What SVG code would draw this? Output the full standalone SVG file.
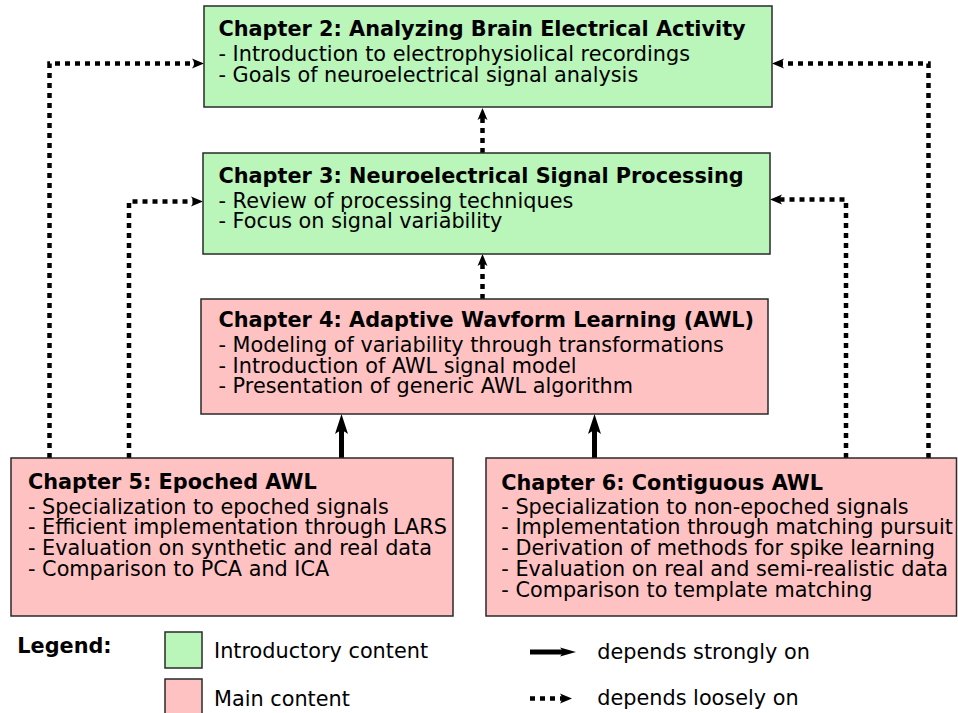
<svg xmlns="http://www.w3.org/2000/svg" width="958" height="713" viewBox="0 0 958 713">
<style>
  .intro { fill: #baf5ba; stroke: #2a2a2a; stroke-width: 1.5; }
  .main { fill: #ffc2c2; stroke: #2a2a2a; stroke-width: 1.5; }
  .title { font-family: "DejaVu Sans", sans-serif; font-size: 20.8px; font-weight: bold; fill: #000; }
  .body { font-family: "DejaVu Sans", sans-serif; font-size: 20.8px; fill: #000; }
  .strong { fill: none; stroke: #000; stroke-width: 5; }
  .loose { fill: none; stroke: #000; stroke-width: 4.5; stroke-dasharray: 5 5; }
</style>
<defs>
  <marker id="headS" markerUnits="userSpaceOnUse" viewBox="-22 -8 24 16" markerWidth="24" markerHeight="16" refX="-14" refY="0" orient="auto" overflow="visible">
    <path d="M0,0 L-20,-6.5 Q-14,0 -20,6.5 Z" fill="#000"/>
  </marker>
  <marker id="headL" markerUnits="userSpaceOnUse" viewBox="-14 -6 16 12" markerWidth="16" markerHeight="12" refX="-8" refY="0" orient="auto" overflow="visible">
    <path d="M0,0 L-12,-5 Q-8,0 -12,5 Z" fill="#000"/>
  </marker>
  <marker id="headSl" markerUnits="userSpaceOnUse" viewBox="-18 -6 20 12" markerWidth="20" markerHeight="12" refX="-11" refY="0" orient="auto" overflow="visible">
    <path d="M0,0 L-16,-4.5 Q-11,0 -16,4.5 Z" fill="#000"/>
  </marker>
</defs>

<g id="connectors">
  <path class="loose" d="M49.5,458 V63.5 H196" marker-end="url(#headL)"/>
  <path class="loose" d="M129,458 V201.5 H195" marker-end="url(#headL)"/>
  <path class="loose" d="M928.5,458 V63.5 H780" marker-end="url(#headL)"/>
  <path class="loose" d="M846,458 V199.5 H778" marker-end="url(#headL)"/>
  <path class="loose" d="M482.5,299 V262" marker-end="url(#headL)"/>
  <path class="loose" d="M482.5,153 V116" marker-end="url(#headL)"/>
  <path class="strong" d="M341.5,458 V428" marker-end="url(#headS)"/>
  <path class="strong" d="M594.5,458 V428" marker-end="url(#headS)"/>
</g>

<g id="ch2">
  <rect class="intro" x="204" y="6" width="568" height="101"/>
  <text class="title" x="218.5" y="35.5">Chapter 2: Analyzing Brain Electrical Activity</text>
  <text class="body" x="218.5" y="61">- Introduction to electrophysiolical recordings</text>
  <text class="body" x="218.5" y="82">- Goals of neuroelectrical signal analysis</text>
</g>

<g id="ch3">
  <rect class="intro" x="203" y="153" width="567" height="101"/>
  <text class="title" x="218.5" y="182.5">Chapter 3: Neuroelectrical Signal Processing</text>
  <text class="body" x="218.5" y="207.5">- Review of processing techniques</text>
  <text class="body" x="218.5" y="228.3">- Focus on signal variability</text>
</g>

<g id="ch4">
  <rect class="main" x="201" y="299" width="567" height="115"/>
  <text class="title" x="218.5" y="327.3">Chapter 4: Adaptive Wavform Learning (AWL)</text>
  <text class="body" x="218.5" y="352">- Modeling of variability through transformations</text>
  <text class="body" x="218.5" y="372.7">- Introduction of AWL signal model</text>
  <text class="body" x="218.5" y="393.4">- Presentation of generic AWL algorithm</text>
</g>

<g id="ch5">
  <rect class="main" x="11" y="458" width="442" height="158"/>
  <text class="title" x="28" y="489.3">Chapter 5: Epoched AWL</text>
  <text class="body" x="28" y="513.5">- Specialization to epoched signals</text>
  <text class="body" x="28" y="534.3">- Efficient implementation through LARS</text>
  <text class="body" x="28" y="555.1">- Evaluation on synthetic and real data</text>
  <text class="body" x="28" y="575.9">- Comparison to PCA and ICA</text>
</g>

<g id="ch6">
  <rect class="main" x="486" y="458" width="470.5" height="158"/>
  <text class="title" x="501.3" y="489.8">Chapter 6: Contiguous AWL</text>
  <text class="body" x="501.3" y="513.5">- Specialization to non-epoched signals</text>
  <text class="body" x="501.3" y="534.3">- Implementation through matching pursuit</text>
  <text class="body" x="501.3" y="555.1">- Derivation of methods for spike learning</text>
  <text class="body" x="501.3" y="575.9">- Evaluation on real and semi-realistic data</text>
  <text class="body" x="501.3" y="596.7">- Comparison to template matching</text>
</g>

<g id="legend">
  <text class="title" x="17.3" y="653.3">Legend:</text>
  <rect class="intro" x="165" y="632" width="37" height="36"/>
  <text class="body" x="214" y="658.3">Introductory content</text>
  <rect class="main" x="165" y="679" width="37" height="40"/>
  <text class="body" x="214" y="705.5">Main content</text>
  <path class="strong" d="M530,652 H565" marker-end="url(#headSl)"/>
  <text class="body" x="597.3" y="659.3">depends strongly on</text>
  <path class="loose" d="M530,698.5 H564" marker-end="url(#headL)"/>
  <text class="body" x="597.3" y="705">depends loosely on</text>
</g>
</svg>
